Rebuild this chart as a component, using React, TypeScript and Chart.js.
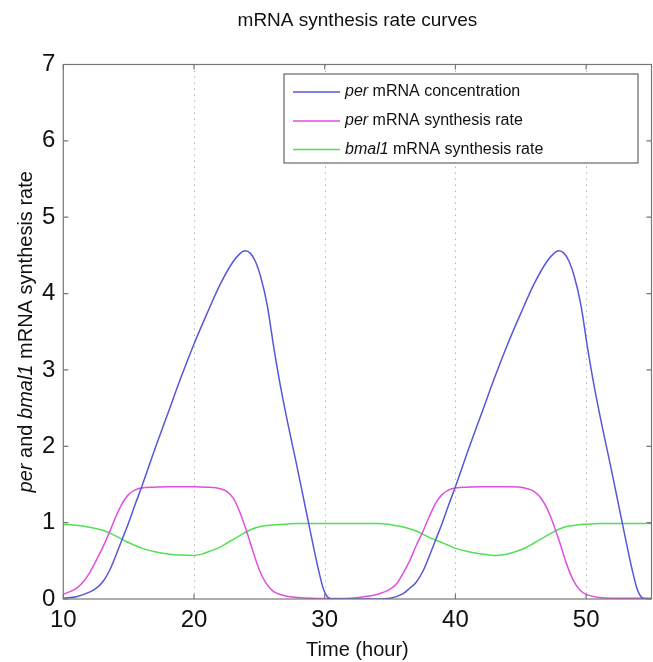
import React, { useEffect, useRef } from 'react';
import { Chart, registerables } from 'chart.js';

Chart.register(...registerables);

const FONT = '"Liberation Sans", Arial, Helvetica, sans-serif';

const CHART_TITLE = 'mRNA synthesis rate curves';
const X_TITLE = 'Time (hour)';
// [text, italic]
const Y_TITLE_PARTS: [string, boolean][] = [
  ['per', true],
  [' and ', false],
  ['bmal1', true],
  [' mRNA synthesis rate', false],
];

const X_TICKS = [10, 20, 30, 40, 50];
const Y_TICKS = [0, 1, 2, 3, 4, 5, 6, 7];
const X_GRID = [20, 30, 40, 50];

// per mRNA concentration (blue)
const perConcT = [10, 11, 12, 12.5, 13, 13.5, 14, 14.5, 15, 15.5, 16, 17, 18, 19, 20, 21, 22, 23, 23.5, 23.9, 24.3, 24.7, 25.1, 25.6, 26.1, 26.6, 27.2, 27.8, 28.4, 29.0, 29.5, 29.9, 30.2, 30.6, 31, 32, 33, 34, 35, 36, 36.5, 37, 37.5, 38, 38.5, 39, 39.5, 40, 41, 42, 43, 44, 45, 46, 47, 47.5, 47.9, 48.3, 48.7, 49.1, 49.6, 50.1, 50.6, 51.2, 51.8, 52.4, 53.0, 53.5, 53.9, 54.2, 54.6, 55];
const perConcV = [0.01, 0.03, 0.09, 0.14, 0.22, 0.36, 0.56, 0.78, 1.0, 1.24, 1.47, 1.96, 2.43, 2.9, 3.34, 3.74, 4.12, 4.42, 4.52, 4.56, 4.53, 4.42, 4.22, 3.85, 3.3, 2.8, 2.28, 1.8, 1.3, 0.8, 0.4, 0.13, 0.03, 0.0, 0.0, 0.0, 0.0, 0.0, 0.01, 0.07, 0.14, 0.22, 0.36, 0.56, 0.78, 1.0, 1.24, 1.47, 1.96, 2.43, 2.9, 3.34, 3.74, 4.12, 4.42, 4.52, 4.56, 4.53, 4.42, 4.22, 3.85, 3.3, 2.8, 2.28, 1.8, 1.3, 0.8, 0.4, 0.13, 0.03, 0.0, 0.0];

// per mRNA synthesis rate (magenta)
const perRateT = [10, 11, 11.5, 12, 12.5, 13, 13.5, 14, 14.5, 15, 15.5, 16, 17, 18, 19, 20, 21, 22, 22.5, 23, 23.5, 24, 24.5, 25, 25.5, 26, 27, 28, 29, 30, 31, 32, 33, 34, 35, 35.5, 36, 36.5, 37, 37.5, 38, 38.5, 39, 39.5, 40, 41, 42, 43, 44, 45, 45.5, 46, 46.5, 47, 47.5, 48, 48.5, 49, 49.5, 50, 51, 52, 53, 54, 55];
const perRateV = [0.06, 0.14, 0.22, 0.34, 0.5, 0.67, 0.86, 1.07, 1.25, 1.37, 1.43, 1.455, 1.465, 1.47, 1.47, 1.47, 1.465, 1.445, 1.41, 1.32, 1.14, 0.9, 0.63, 0.38, 0.21, 0.11, 0.04, 0.02, 0.01, 0.005, 0.005, 0.01, 0.03, 0.06, 0.13, 0.2, 0.34, 0.5, 0.7, 0.88, 1.08, 1.26, 1.37, 1.43, 1.455, 1.465, 1.47, 1.47, 1.47, 1.465, 1.445, 1.41, 1.33, 1.19, 0.98, 0.73, 0.46, 0.25, 0.12, 0.06, 0.02, 0.01, 0.01, 0.01, 0.01];

// bmal1 mRNA synthesis rate (green)
const bmalRateT = [10, 11, 12, 13, 13.6, 14.3, 14.85, 15.5, 16.1, 17, 18, 19, 20, 20.6, 21.2, 22, 22.5, 23.2, 23.8, 24.5, 25.1, 26, 27, 28, 30, 32, 34, 35, 35.6, 36.3, 37, 37.6, 38.2, 38.8, 39.5, 40.1, 41, 42, 43.2, 43.9, 44.5, 45.3, 46, 46.7, 47.3, 48, 48.5, 49.3, 50, 51, 53, 55];
const bmalRateV = [0.98, 0.965, 0.94, 0.9, 0.86, 0.8, 0.75, 0.7, 0.66, 0.62, 0.59, 0.575, 0.57, 0.588, 0.625, 0.68, 0.73, 0.8, 0.86, 0.92, 0.95, 0.97, 0.98, 0.99, 0.99, 0.99, 0.99, 0.975, 0.955, 0.93, 0.89, 0.84, 0.79, 0.75, 0.7, 0.66, 0.62, 0.59, 0.57, 0.585, 0.615, 0.665, 0.73, 0.8, 0.86, 0.92, 0.95, 0.97, 0.98, 0.99, 0.99, 0.99];

const COLORS = ['#5757dc', '#e04fe0', '#52e052'];

// legend entries: [italic part, normal part]
const LEGEND_ITEMS: [string, string][] = [
  ['per', ' mRNA concentration'],
  ['per', ' mRNA synthesis rate'],
  ['bmal1', ' mRNA synthesis rate'],
];

const zip = (t: number[], v: number[]) => t.map((x, i) => ({ x, y: v[i] }));

const decorPlugin = {
  id: 'decor',
  beforeDatasetsDraw(chart: any) {
    const { ctx, chartArea: a, scales } = chart;
    const xs = scales.x;
    ctx.save();
    ctx.strokeStyle = '#b5b5b5';
    ctx.lineWidth = 1;
    ctx.setLineDash([1.5, 4.5]);
    for (const v of X_GRID) {
      const px = Math.round(xs.getPixelForValue(v)) + 0.5;
      ctx.beginPath();
      ctx.moveTo(px, a.top);
      ctx.lineTo(px, a.bottom);
      ctx.stroke();
    }
    ctx.restore();
  },
  afterDatasetsDraw(chart: any) {
    const { ctx, chartArea: a, scales } = chart;
    const xs = scales.x;
    const ys = scales.y;
    ctx.save();
    // box
    ctx.strokeStyle = '#777777';
    ctx.lineWidth = 1.2;
    ctx.strokeRect(a.left, a.top, a.right - a.left, a.bottom - a.top);
    // inward ticks
    const TL = 5;
    ctx.beginPath();
    for (const v of X_TICKS) {
      const px = xs.getPixelForValue(v);
      ctx.moveTo(px, a.bottom);
      ctx.lineTo(px, a.bottom - TL);
      ctx.moveTo(px, a.top);
      ctx.lineTo(px, a.top + TL);
    }
    for (const v of Y_TICKS) {
      const py = ys.getPixelForValue(v);
      ctx.moveTo(a.left, py);
      ctx.lineTo(a.left + TL, py);
      ctx.moveTo(a.right, py);
      ctx.lineTo(a.right - TL, py);
    }
    ctx.stroke();

    const cx = (a.left + a.right) / 2;
    // chart title
    ctx.fillStyle = '#111';
    ctx.textAlign = 'center';
    ctx.textBaseline = 'middle';
    ctx.font = `19px ${FONT}`;
    ctx.fillText(CHART_TITLE, cx, 21);
    // x title
    ctx.font = `20px ${FONT}`;
    ctx.fillText(X_TITLE, cx, 650);

    // y title (mixed italic), rotated
    const yFont = 20;
    const fontFor = (it: boolean) => `${it ? 'italic ' : ''}${yFont}px ${FONT}`;
    let total = 0;
    const widths = Y_TITLE_PARTS.map(([t, it]) => {
      ctx.font = fontFor(it);
      const w = ctx.measureText(t).width;
      total += w;
      return w;
    });
    ctx.save();
    ctx.translate(26, (a.top + a.bottom) / 2);
    ctx.rotate(-Math.PI / 2);
    ctx.textAlign = 'left';
    let xx = -total / 2;
    Y_TITLE_PARTS.forEach(([t, it], i) => {
      ctx.font = fontFor(it);
      ctx.fillText(t, xx, 0);
      xx += widths[i];
    });
    ctx.restore();

    // legend
    const L = { left: 284, top: 74, right: 638, bottom: 163 };
    ctx.fillStyle = '#ffffff';
    ctx.fillRect(L.left, L.top, L.right - L.left, L.bottom - L.top);
    ctx.strokeStyle = '#666666';
    ctx.lineWidth = 1.2;
    ctx.strokeRect(L.left, L.top, L.right - L.left, L.bottom - L.top);
    const rows = [92, 121, 149.5];
    LEGEND_ITEMS.forEach(([itPart, rest], i) => {
      const ry = rows[i];
      ctx.strokeStyle = COLORS[i];
      ctx.lineWidth = 1.5;
      ctx.beginPath();
      ctx.moveTo(293, ry);
      ctx.lineTo(340, ry);
      ctx.stroke();
      ctx.fillStyle = '#111';
      ctx.textAlign = 'left';
      ctx.textBaseline = 'middle';
      ctx.font = `italic 16px ${FONT}`;
      const w = ctx.measureText(itPart).width;
      ctx.fillText(itPart, 345, ry);
      ctx.font = `16px ${FONT}`;
      ctx.fillText(rest, 345 + w, ry);
    });
    ctx.restore();
  },
};

export default function App() {
  const ref = useRef<HTMLCanvasElement | null>(null);
  useEffect(() => {
    if (!ref.current) return;
    const chart = new Chart(ref.current, {
      type: 'line',
      data: {
        datasets: [
          { label: 'per mRNA concentration', data: zip(perConcT, perConcV), borderColor: COLORS[0] },
          { label: 'per mRNA synthesis rate', data: zip(perRateT, perRateV), borderColor: COLORS[1] },
          { label: 'bmal1 mRNA synthesis rate', data: zip(bmalRateT, bmalRateV), borderColor: COLORS[2] },
        ].map((d) => ({
          ...d,
          borderWidth: 1.5,
          pointRadius: 0,
          fill: false,
          cubicInterpolationMode: 'monotone' as const,
        })),
      },
      options: {
        animation: false,
        responsive: false,
        devicePixelRatio: 1,
        layout: { padding: { left: 0, right: 1.5, top: 64.5, bottom: 0 } },
        plugins: { legend: { display: false }, title: { display: false }, tooltip: { enabled: false } },
        scales: {
          x: {
            type: 'linear',
            min: 10,
            max: 55,
            grid: { display: false, drawTicks: false },
            border: { display: false },
            ticks: { padding: 7, color: '#111', font: { family: FONT, size: 24 }, maxRotation: 0 },
            afterBuildTicks: (s: any) => { s.ticks = X_TICKS.map((v) => ({ value: v })); },
            afterFit: (s: any) => { s.height = 63; },
          },
          y: {
            type: 'linear',
            min: 0,
            max: 7,
            grid: { display: false, drawTicks: false },
            border: { display: false },
            ticks: { padding: 8, color: '#111', font: { family: FONT, size: 24 } },
            afterBuildTicks: (s: any) => { s.ticks = Y_TICKS.map((v) => ({ value: v })); },
            afterFit: (s: any) => { s.width = 63.3; },
          },
        },
      },
      plugins: [decorPlugin],
    });
    return () => chart.destroy();
  }, []);
  return (
    <div style={{ position: 'absolute', left: 0, top: 0, width: 653, height: 662, background: '#fff' }}>
      <canvas ref={ref} width={653} height={662} style={{ width: 653, height: 662, display: 'block' }} />
    </div>
  );
}
